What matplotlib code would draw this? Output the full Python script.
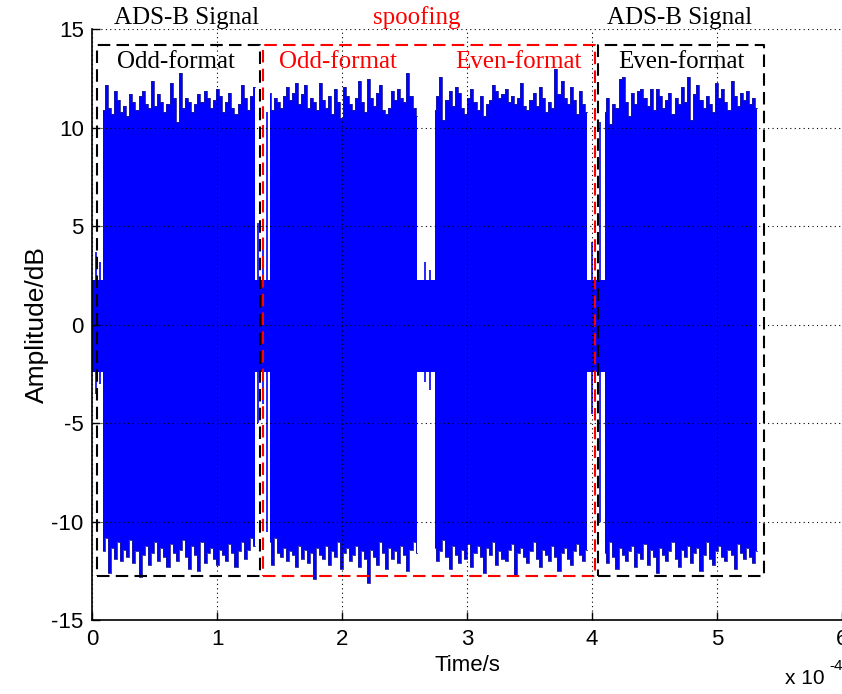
import numpy as np
import matplotlib
matplotlib.use('Agg')
import matplotlib.pyplot as plt

sans = ['Liberation Sans Narrow', 'Liberation Sans', 'DejaVu Sans']
serif = ['Liberation Serif', 'DejaVu Serif']
plt.rcParams['font.family'] = sans
plt.rcParams['axes.unicode_minus'] = False

# burst limits (s)
burst_start = [0.088e-4, 1.42e-4, 2.74e-4, 4.10e-4]
burst_end = [1.30e-4, 2.60e-4, 3.96e-4, 5.32e-4]

# peak amplitudes over each burst (dB)
top1 = [10.9, 12.2, 11.0, 10.7, 11.9, 11.4, 10.8, 11.1, 10.6, 11.7, 11.3, 10.9, 11.6, 11.9, 11.2, 11.0, 12.4,
        11.1, 11.7, 11.3, 10.8, 11.2, 12.3, 11.5, 10.3, 12.8, 11.0, 11.5, 11.3, 10.8, 11.2, 11.7, 11.3, 11.9,
        11.5, 11.0, 11.4, 12.0, 11.6, 10.8, 11.3, 11.8, 11.0, 10.7, 11.2, 12.2, 11.5, 10.9, 11.6, 12.1]
bot1 = [-11.5, -10.8, -12.6, -11.3, -11.9, -11.0, -12.0, -11.4, -11.8, -10.9, -12.1, -11.5, -12.8, -11.7,
        -11.2, -12.2, -11.6, -11.0, -12.0, -11.3, -11.8, -12.3, -11.1, -11.6, -12.0, -11.4, -10.9, -11.8,
        -12.4, -11.2, -11.7, -12.5, -11.0, -12.1, -11.6, -11.3, -11.9, -12.2, -11.4, -11.7, -12.0, -11.1,
        -11.6, -12.3, -11.5, -11.0, -11.9, -11.4, -10.8, -11.2]
top2 = [11.8, 10.9, 11.5, 11.3, 11.0, 11.6, 12.1, 11.4, 11.8, 12.3, 11.2, 11.7, 12.2, 11.0, 11.5, 11.3, 10.9,
        12.3, 11.4, 11.0, 11.6, 10.7, 12.0, 11.3, 10.5, 12.1, 11.6, 11.2, 10.9, 11.5, 12.4, 11.3, 10.8, 12.5,
        11.5, 11.1, 11.8, 12.2, 10.9, 10.7, 11.0, 11.9, 11.4, 12.0, 11.5, 11.3, 12.8, 11.6, 11.0, 10.6]
bot2 = [-11.0, -12.2, -10.8, -11.6, -11.8, -11.3, -12.0, -11.5, -11.7, -12.3, -11.2, -11.9, -11.4, -12.1,
        -11.6, -12.9, -11.3, -11.7, -11.9, -11.2, -12.2, -11.5, -11.8, -11.0, -12.4, -11.6, -11.3, -12.0,
        -11.7, -11.2, -12.3, -11.5, -11.9, -13.1, -11.4, -11.8, -12.2, -11.0, -11.6, -12.4, -11.3, -11.9,
        -11.5, -12.1, -11.2, -11.7, -12.5, -11.4, -11.0, -11.6]
top3 = [10.9, 11.6, 12.6, 10.4, 11.4, 11.9, 11.1, 12.1, 11.8, 11.0, 10.7, 11.5, 12.0, 11.3, 10.9, 11.6, 10.6,
        11.2, 11.4, 12.2, 11.9, 11.5, 11.7, 12.0, 11.3, 11.6, 11.2, 11.5, 12.3, 11.1, 10.9, 11.4, 11.8, 11.1,
        12.1, 11.5, 10.8, 11.3, 11.0, 13.0, 11.7, 12.4, 11.5, 11.2, 12.1, 11.4, 10.7, 11.9, 11.2, 10.8]
bot3 = [-11.3, -12.0, -11.5, -10.9, -11.8, -12.4, -11.2, -11.7, -12.1, -11.4, -11.9, -11.1, -12.3, -11.6,
        -11.2, -11.8, -12.6, -11.3, -11.7, -11.0, -12.2, -11.5, -11.9, -12.0, -11.4, -11.1, -12.7, -11.6,
        -11.3, -11.8, -12.1, -11.5, -11.0, -11.9, -12.3, -11.4, -11.7, -12.0, -11.2, -11.8, -12.5, -11.6,
        -11.3, -11.9, -12.2, -11.5, -11.1, -11.7, -12.0, -11.4]
top4 = [10.8, 11.5, 10.2, 11.2, 11.0, 12.5, 12.6, 11.3, 10.6, 11.8, 11.2, 11.9, 12.0, 11.5, 11.1, 12.0, 10.9,
        12.0, 11.6, 11.0, 11.4, 11.8, 10.7, 11.5, 11.2, 12.1, 11.3, 12.6, 10.4, 11.7, 12.2, 11.4, 11.0, 11.6,
        11.2, 10.8, 12.3, 11.5, 12.0, 11.3, 10.9, 12.4, 11.6, 11.1, 11.8, 11.4, 11.9, 11.2, 11.5, 11.0]
bot4 = [-11.6, -12.1, -11.0, -11.8, -12.4, -11.3, -11.7, -12.0, -11.5, -11.2, -12.3, -11.6, -11.9, -11.1,
        -12.2, -11.4, -11.8, -12.6, -11.3, -11.7, -12.0, -11.5, -11.0, -11.9, -12.3, -11.4, -11.8, -11.2,
        -12.1, -11.6, -11.3, -12.5, -11.7, -11.0, -11.9, -12.2, -11.5, -11.2, -11.8, -12.0, -11.4, -11.7,
        -12.4, -11.1, -11.6, -11.9, -11.3, -11.8, -12.1, -11.5]
tops = [top1, top2, top3, top4]
bots = [bot1, bot2, bot3, bot4]

# background noise between bursts
floor_t = [0.0, 5.32e-4]
floor_hi = 2.3
floor_lo = -2.4

# isolated pulses in the gaps: time, low, high
spike_t = [0.03e-4, 0.06e-4, 1.33e-4, 1.37e-4, 1.40e-4, 2.66e-4, 2.70e-4, 4.00e-4, 4.06e-4]
spike_lo = [-3.5, -3.0, -5.0, -4.0, -10.5, -2.9, -3.3, -4.5, -10.0]
spike_hi = [3.7, 3.2, 5.2, 4.0, 10.8, 3.2, 2.8, 4.2, 10.3]

# dashed frames: x0, x1, y0, y1
boxes = [(0.04e-4, 1.344e-4, -12.74, 14.2, 'k'),
         (1.368e-4, 4.024e-4, -12.74, 14.2, 'r'),
         (4.048e-4, 5.376e-4, -12.74, 14.2, 'k')]

blue = '#0000ff'
navy = '#1c1c96'

fig = plt.figure(figsize=(8.42, 6.94), dpi=100)
ax = fig.add_axes([0.1093, 0.106, 0.8907, 0.8515])

ax.fill_between(floor_t, floor_lo, floor_hi, color=blue, lw=0)
ax.vlines(spike_t, spike_lo, spike_hi, color=blue, lw=1.2)
for s, e, tp, bt in zip(burst_start, burst_end, tops, bots):
    t = np.linspace(s, e, len(tp))
    ax.fill_between(t, bt, tp, step='mid', color=blue, lw=0)
    ax.step(t, tp, where='mid', color=navy, lw=0.6)
    ax.step(t, bt, where='mid', color=navy, lw=0.6)

for x0, x1, y0, y1, c in boxes:
    ax.plot([x0, x1, x1, x0, x0], [y0, y0, y1, y1, y0], color=c, lw=1.5,
            dashes=(6, 3), clip_on=False)

ax.set_xlim(0, 6e-4)
ax.set_ylim(-15, 15)
ax.set_xticks(np.arange(7) * 1e-4)
ax.set_xticklabels([str(i) for i in range(7)])
ax.set_yticks([-15, -10, -5, 0, 5, 10, 15])
ax.grid(True, color='k', linestyle=(0, (1, 3)), lw=0.8)
ax.set_axisbelow(False)
for sp in ['top', 'right']:
    ax.spines[sp].set_visible(False)
ax.spines['left'].set_linewidth(1.2)
ax.spines['bottom'].set_linewidth(1.2)
ax.tick_params(direction='in', length=6, width=1, labelsize=16, pad=6)

ax.set_xlabel('Time/s', fontsize=16, labelpad=4)
ax.set_ylabel('Amplitude/dB', fontsize=19, family=['Liberation Sans', 'DejaVu Sans'], labelpad=2)

fig.text(0.932, 0.008, 'x 10', fontsize=15, ha='left', va='bottom')
fig.text(0.985, 0.03, '-4', fontsize=11, ha='left', va='bottom')

ax.text(0.76e-4, 15.6, 'ADS-B Signal', family=serif, fontsize=18, ha='center', va='center', clip_on=False)
ax.text(2.6e-4, 15.6, 'spoofing', family=serif, fontsize=18, color='r', ha='center', va='center', clip_on=False)
ax.text(4.70e-4, 15.6, 'ADS-B Signal', family=serif, fontsize=18, ha='center', va='center', clip_on=False)
ax.text(0.672e-4, 13.35, 'Odd-format', family=serif, fontsize=18, ha='center', va='center')
ax.text(1.968e-4, 13.35, 'Odd-format', family=serif, fontsize=18, color='r', ha='center', va='center')
ax.text(3.408e-4, 13.35, 'Even-format', family=serif, fontsize=18, color='r', ha='center', va='center')
ax.text(4.712e-4, 13.35, 'Even-format', family=serif, fontsize=18, ha='center', va='center')

fig.savefig('out.png', dpi=100)
